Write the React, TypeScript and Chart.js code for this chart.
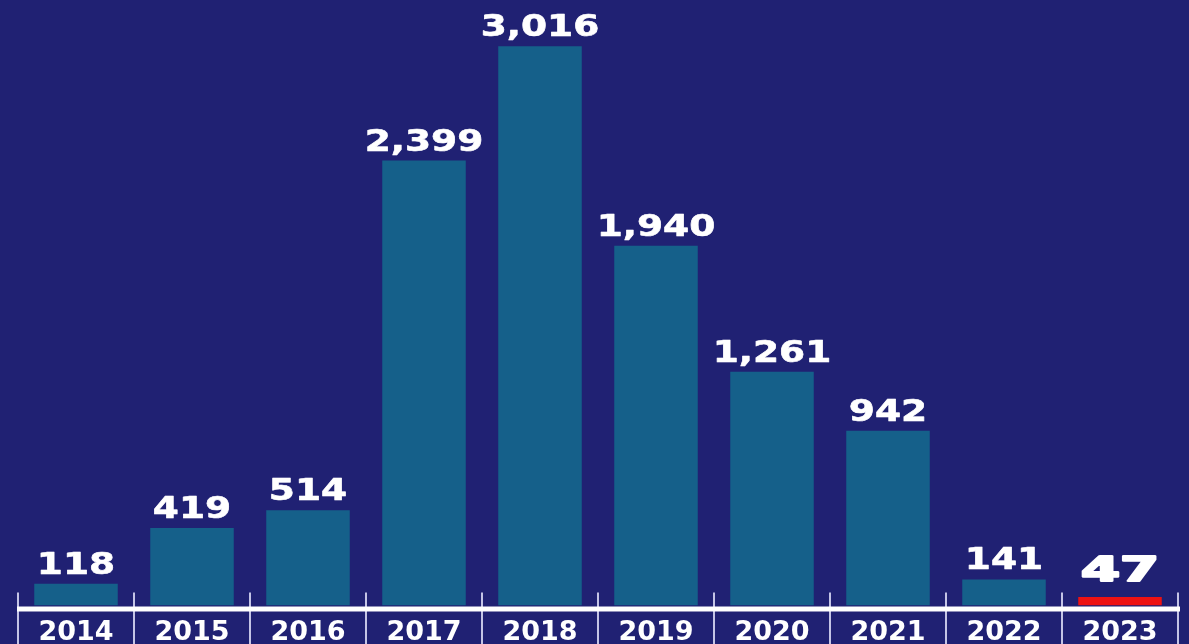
import React, { useEffect, useRef } from "react";
import { Chart, registerables } from "chart.js";

Chart.register(...registerables);

const years = ["2014", "2015", "2016", "2017", "2018", "2019", "2020", "2021", "2022", "2023"];
const counts = [118, 419, 514, 2399, 3016, 1940, 1261, 942, 141, 47];
const highlightIndex = 9;

const BG = "#202173";
const BAR = "#15608a";
const RED = "#ee1212";

const decorPlugin = {
  id: "decor",
  afterDraw(chart: any) {
    const ctx = chart.ctx;
    const xs = chart.scales.x;
    const n = years.length;
    const step = xs.getPixelForValue(1) - xs.getPixelForValue(0);
    const bottom = chart.chartArea.bottom;
    ctx.save();
    ctx.strokeStyle = "#c4c4e6";
    ctx.lineWidth = 2;
    for (let i = 0; i <= n; i++) {
      const x = xs.getPixelForValue(0) - step / 2 + i * step;
      ctx.beginPath();
      ctx.moveTo(x, bottom - 13);
      ctx.lineTo(x, chart.height);
      ctx.stroke();
    }
    ctx.strokeStyle = "#ffffff";
    ctx.lineWidth = 5;
    ctx.beginPath();
    ctx.moveTo(xs.getPixelForValue(0) - step / 2 - 1, bottom + 3.5);
    ctx.lineTo(xs.getPixelForValue(n - 1) + step / 2 + 2, bottom + 3.5);
    ctx.stroke();
    ctx.restore();
  },
  afterDatasetsDraw(chart: any) {
    const ctx = chart.ctx;
    const meta = chart.getDatasetMeta(0);
    ctx.save();
    ctx.fillStyle = "#ffffff";
    ctx.strokeStyle = "#ffffff";
    ctx.lineJoin = "round";
    ctx.textAlign = "center";
    ctx.textBaseline = "alphabetic";
    meta.data.forEach((bar: any, i: number) => {
      const text = counts[i].toLocaleString("en-US");
      const hl = i === highlightIndex;
      ctx.save();
      ctx.translate(bar.x, bar.y - (hl ? 16 : 10));
      if (hl) {
        ctx.font = "bold 34px 'DejaVu Sans'";
        ctx.scale(1.65, 1);
        ctx.lineWidth = 2.2;
      } else {
        ctx.font = "bold 30px 'DejaVu Sans'";
        ctx.scale(1.25, 1);
        ctx.lineWidth = 0.6;
      }
      ctx.fillText(text, 0, 0);
      ctx.strokeText(text, 0, 0);
      ctx.restore();
    });
    ctx.restore();
  },
};

export default function App() {
  const ref = useRef<HTMLCanvasElement | null>(null);
  useEffect(() => {
    if (!ref.current) return;
    const chart = new Chart(ref.current, {
      type: "bar",
      data: {
        labels: years,
        datasets: [
          {
            data: counts,
            backgroundColor: counts.map((_, i) => (i === highlightIndex ? RED : BAR)),
            barPercentage: 0.72,
            categoryPercentage: 1,
            borderWidth: 0,
          },
        ],
      },
      options: {
        responsive: false,
        animation: false,
        devicePixelRatio: 1,
        layout: { padding: { top: 12, left: 18, right: 11, bottom: 0 } },
        plugins: { legend: { display: false }, tooltip: { enabled: false } },
        scales: {
          x: {
            grid: { display: false, drawTicks: false },
            border: { display: false },
            ticks: {
              color: "#ffffff",
              padding: 11,
              font: { family: "'DejaVu Sans'", size: 27, weight: "bold" },
            },
          },
          y: { display: false, min: 0, max: 3200 },
        },
      },
      plugins: [decorPlugin],
    });
    return () => chart.destroy();
  }, []);
  return (
    <div
      style={{
        position: "fixed",
        left: 0,
        top: 0,
        width: 1189,
        height: 644,
        overflow: "hidden",
        background: BG,
      }}
    >
      <canvas ref={ref} width={1189} height={660} style={{ display: "block" }} />
    </div>
  );
}
